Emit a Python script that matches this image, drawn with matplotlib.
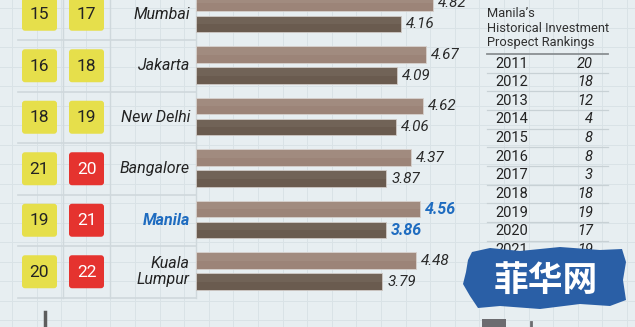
import matplotlib.pyplot as plt
from matplotlib.patches import FancyBboxPatch, Rectangle, Polygon

# ---- data -------------------------------------------------------------
cities = ["Mumbai", "Jakarta", "New Delhi", "Bangalore", "Manila", "Kuala\nLumpur"]
rank_prev = [15, 16, 18, 21, 19, 20]
rank_now = [17, 18, 19, 20, 21, 22]
score_prev = [4.82, 4.67, 4.62, 4.37, 4.56, 4.48]
score_now = [4.16, 4.09, 4.06, 3.87, 3.86, 3.79]

hist_years = [2011, 2012, 2013, 2014, 2015, 2016, 2017, 2018, 2019, 2020, 2021]
hist_ranks = [20, 18, 12, 4, 8, 8, 3, 18, 19, 17, 19]

highlight = "Manila"

# ---- style ------------------------------------------------------------
plt.rcParams['font.family'] = ['Roboto', 'DejaVu Sans']
BG = '#e7eef1'
GRID = '#d9e2e6'
TXT = '#232323'
BLUE = '#1f6cc0'
YELLOW = '#e6df4b'
RED = '#e5332f'
C_PREV = '#9c8478'
C_NOW = '#6a5b4f'

W, H = 635, 327
ROW0, ROW_H = 14.25, 51.5   # pixel centre of first row and row pitch
X0, PX_PER_UNIT = 196, 49.2  # bar baseline and scale in pixels

fig = plt.figure(figsize=(W / 100, H / 100), dpi=100, facecolor=BG)

# full-figure layer in pixel units for the table parts
bg = fig.add_axes([0, 0, 1, 1])
bg.set_xlim(0, W)
bg.set_ylim(H, 0)
bg.set_facecolor(BG)
bg.axis('off')

# faint background grid
gx = 12
while gx < W:
    bg.plot([gx, gx], [0, H], color=GRID, lw=0.7, zorder=0)
    gx += 24.6
gy = 8
while gy < H:
    bg.plot([0, W], [gy, gy], color=GRID, lw=0.7, zorder=0)
    gy += 19.5

# left ranking table
n = len(cities)
tbl_bottom = ROW0 + (n - 0.5) * ROW_H
for xv in (63, 110, X0):
    bg.plot([xv, xv], [0, tbl_bottom], color='#cfd8dc', lw=1, zorder=1)
for i in range(n):
    yb = ROW0 + (i + 0.5) * ROW_H
    bg.plot([18, X0], [yb, yb], color='#cfd8dc', lw=1.2, zorder=1)

for i, (city, r1, r2) in enumerate(zip(cities, rank_prev, rank_now)):
    cy = ROW0 + i * ROW_H
    for bx, r, col in ((22, r1, 1), (69, r2, 2)):
        fc = RED if (col == 2 and r >= 20) else YELLOW
        tc = 'white' if fc == RED else TXT
        bg.add_patch(FancyBboxPatch((bx, cy - 16.5), 35, 33,
                                    boxstyle='round,pad=0,rounding_size=3',
                                    fc=fc, ec='none', zorder=2))
        bg.text(bx + 17.5, cy + 0.5, str(r), ha='center', va='center',
                fontsize=12.5, color=tc, zorder=3)
    is_hl = city == highlight
    bg.text(190, cy, city, ha='right', va='center', fontsize=11.5,
            style='italic', weight='bold' if is_hl else 'normal',
            color=BLUE if is_hl else TXT, linespacing=1.05, zorder=3)

# historical table on the right
bg.text(487, 28, "Manila\u2019s\nHistorical Investment\nProspect Rankings",
        ha='left', va='center', fontsize=9.3, color='#303030',
        linespacing=1.15)
bg.plot([487, 608], [54, 54], color='#8a8f92', lw=1.3)
for k, (yr, rk) in enumerate(zip(hist_years, hist_ranks)):
    ry = 63.5 + k * 18.65
    bg.text(495, ry, str(yr), ha='left', va='center', fontsize=10.5, color=TXT)
    bg.text(593, ry, str(rk), ha='right', va='center', fontsize=10.5,
            style='italic', color=TXT)
    bg.plot([487, 608], [ry + 9.3, ry + 9.3], color='#c8d1d5', lw=0.9)

# fragments of the next panel peeking in at the bottom
bg.plot([45, 45], [312, H], color='#5d5d5d', lw=2.5)
bg.add_patch(Rectangle((482, 319), 24, 10, fc='#6c6c70', ec='none'))
bg.plot([531, 531], [322, H], color='#6c6c70', lw=2)

# site badge
badge = [(472, 252), (490, 248), (520, 251), (560, 247), (600, 250), (622, 249),
         (626, 262), (623, 280), (626, 300), (610, 306), (580, 304), (540, 309),
         (500, 306), (478, 308), (470, 296), (463, 284), (466, 272), (468, 260)]
bg.add_patch(Polygon(badge, closed=True, fc='#2a5fa6', ec='none', zorder=5))
bg.text(546, 280, "菲华网", ha='center', va='center', fontsize=25,
        weight='bold', color='white', family=['Noto Sans CJK SC', 'DejaVu Sans'],
        zorder=6)

# bars on their own axes, sharing the row layout
ax = fig.add_axes([X0 / W, 0, (W - X0) / W, 1], zorder=2)
ax.patch.set_alpha(0)
ax.set_xlim(0, (W - X0) / PX_PER_UNIT)
ax.set_ylim((H - ROW0) / ROW_H, -ROW0 / ROW_H)
ax.axis('off')

rows = list(range(n))
bar_h = 16.5 / ROW_H
y_prev = [r - 0.215 for r in rows]
y_now = [r + 0.19 for r in rows]
ax.barh(y_prev, score_prev, height=bar_h, color=C_PREV, edgecolor='#d6d0cc', lw=0.6)
ax.barh(y_now, score_now, height=bar_h, color=C_NOW, edgecolor='#cfc9c5', lw=0.6)
# soft sheen on the upper half of each bar
ax.barh([y - bar_h / 4 for y in y_prev], score_prev, height=bar_h / 2,
        color='white', alpha=0.06, lw=0)
ax.barh([y - bar_h / 4 for y in y_now], score_now, height=bar_h / 2,
        color='white', alpha=0.05, lw=0)

pad = 5 / PX_PER_UNIT
for city, yp, yn, sp, sn in zip(cities, y_prev, y_now, score_prev, score_now):
    is_hl = city == highlight
    kw = dict(va='center', ha='left', style='italic', fontsize=11.5 if is_hl else 11,
              weight='bold' if is_hl else 'normal', color=BLUE if is_hl else '#2a2a2a')
    ax.text(sp + pad, yp, f"{sp:.2f}", **kw)
    ax.text(sn + pad, yn, f"{sn:.2f}", **kw)

fig.savefig('out.png', dpi=100, facecolor=BG)
